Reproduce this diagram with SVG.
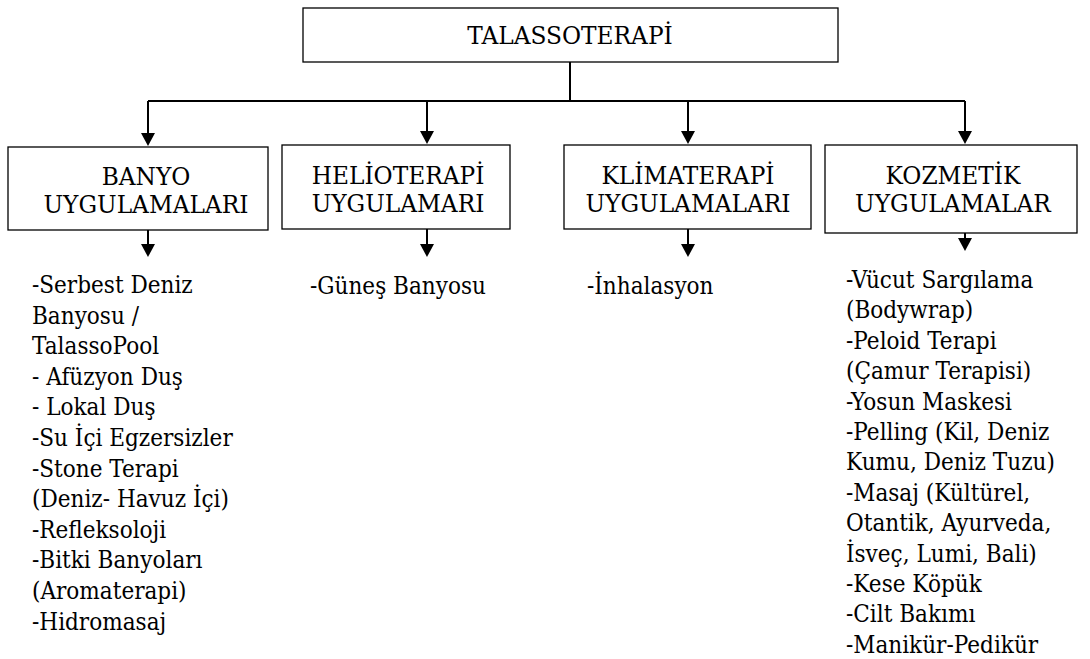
<svg xmlns="http://www.w3.org/2000/svg" width="1090" height="659" viewBox="0 0 1090 659">
  <style>
    .box { fill: #ffffff; stroke: #000000; stroke-width: 1.3; }
    .head { font-family: "DejaVu Serif", "Liberation Serif", serif; font-size: 24px; fill: #000000; text-anchor: middle; }
    .list { font-family: "DejaVu Serif", "Liberation Serif", serif; font-size: 24px; fill: #000000; }
    .line { fill: none; stroke: #000000; stroke-width: 2; }
    .tip { fill: #000000; }
  </style>
  <rect width="1090" height="659" fill="#ffffff"/>

  <!-- connectors: trunk, bus and arrows into / out of each branch -->
  <g id="connectors">
    <path class="line" d="M570,62 V101" stroke-width="2.6"/>
    <path class="line" d="M148,101 H965"/>
    <line class="line" x1="148" y1="101" x2="148" y2="140"/>
    <path class="tip" d="M141,133 L155,133 L148,146 Z"/>
    <line class="line" x1="427" y1="101" x2="427" y2="138"/>
    <path class="tip" d="M420,131 L434,131 L427,144 Z"/>
    <line class="line" x1="688" y1="101" x2="688" y2="138"/>
    <path class="tip" d="M681,131 L695,131 L688,144 Z"/>
    <line class="line" x1="965" y1="101" x2="965" y2="138"/>
    <path class="tip" d="M958,131 L972,131 L965,144 Z"/>

    <line class="line" x1="148" y1="230" x2="148" y2="250"/>
    <path class="tip" d="M141,244 L155,244 L148,257 Z"/>
    <line class="line" x1="427" y1="229" x2="427" y2="250"/>
    <path class="tip" d="M420,244 L434,244 L427,257 Z"/>
    <line class="line" x1="688" y1="229" x2="688" y2="250"/>
    <path class="tip" d="M681,244 L695,244 L688,257 Z"/>
    <line class="line" x1="965" y1="233" x2="965" y2="244"/>
    <path class="tip" d="M958,238 L972,238 L965,251 Z"/>
  </g>

  <!-- root -->
  <g id="talassoterapi">
    <rect class="box" x="303" y="8" width="535" height="54"/>
    <g transform="translate(570,0) scale(0.97,1)">
      <text class="head" x="0" y="44">TALASSOTERAPİ</text>
    </g>
  </g>

  <!-- branches (labels narrowed slightly for a book-face look) -->
  <g id="banyo">
    <rect class="box" x="8" y="147" width="260" height="83"/>
    <g transform="translate(146,0) scale(0.97,1)">
      <text class="head" x="0" y="185">BANYO</text>
      <text class="head" x="0" y="213">UYGULAMALARI</text>
    </g>
  </g>
  <g id="helioterapi">
    <rect class="box" x="282" y="145" width="228" height="84"/>
    <g transform="translate(398,0) scale(0.97,1)">
      <text class="head" x="0" y="184">HELİOTERAPİ</text>
      <text class="head" x="0" y="212">UYGULAMARI</text>
    </g>
  </g>
  <g id="klimaterapi">
    <rect class="box" x="564" y="145" width="247" height="84"/>
    <g transform="translate(688,0) scale(0.97,1)">
      <text class="head" x="0" y="184">KLİMATERAPİ</text>
      <text class="head" x="0" y="212">UYGULAMALARI</text>
    </g>
  </g>
  <g id="kozmetik">
    <rect class="box" x="825" y="145" width="252" height="88"/>
    <g transform="translate(953,0) scale(0.97,1)">
      <text class="head" x="0" y="184">KOZMETİK</text>
      <text class="head" x="0" y="212">UYGULAMALAR</text>
    </g>
  </g>

  <!-- item lists (narrowed horizontally for a book-face look) -->
  <g id="banyo-list" transform="translate(32,0) scale(0.9,1)">
    <text class="list" x="0" y="293">-Serbest Deniz</text>
    <text class="list" x="0" y="323.6">Banyosu /</text>
    <text class="list" x="0" y="354.2">TalassoPool</text>
    <text class="list" x="0" y="384.8">- Afüzyon Duş</text>
    <text class="list" x="0" y="415.4">- Lokal Duş</text>
    <text class="list" x="0" y="446">-Su İçi Egzersizler</text>
    <text class="list" x="0" y="476.6">-Stone Terapi</text>
    <text class="list" x="0" y="507.2">(Deniz- Havuz İçi)</text>
    <text class="list" x="0" y="537.8">-Refleksoloji</text>
    <text class="list" x="0" y="568.4">-Bitki Banyoları</text>
    <text class="list" x="0" y="599">(Aromaterapi)</text>
    <text class="list" x="0" y="629.6">-Hidromasaj</text>
  </g>
  <g id="helioterapi-list" transform="translate(310,0) scale(0.9,1)">
    <text class="list" x="0" y="294">-Güneş Banyosu</text>
  </g>
  <g id="klimaterapi-list" transform="translate(587,0) scale(0.9,1)">
    <text class="list" x="0" y="294">-İnhalasyon</text>
  </g>
  <g id="kozmetik-list" transform="translate(846,0) scale(0.9,1)">
    <text class="list" x="0" y="288">-Vücut Sargılama</text>
    <text class="list" x="0" y="318.4">(Bodywrap)</text>
    <text class="list" x="0" y="348.8">-Peloid Terapi</text>
    <text class="list" x="0" y="379.2">(Çamur Terapisi)</text>
    <text class="list" x="0" y="409.6">-Yosun Maskesi</text>
    <text class="list" x="0" y="440">-Pelling (Kil, Deniz</text>
    <text class="list" x="0" y="470.4">Kumu, Deniz Tuzu)</text>
    <text class="list" x="0" y="500.8">-Masaj (Kültürel,</text>
    <text class="list" x="0" y="531.2">Otantik, Ayurveda,</text>
    <text class="list" x="0" y="561.6">İsveç, Lumi, Bali)</text>
    <text class="list" x="0" y="592">-Kese Köpük</text>
    <text class="list" x="0" y="622.4">-Cilt Bakımı</text>
    <text class="list" x="0" y="652.8">-Manikür-Pedikür</text>
  </g>
</svg>
